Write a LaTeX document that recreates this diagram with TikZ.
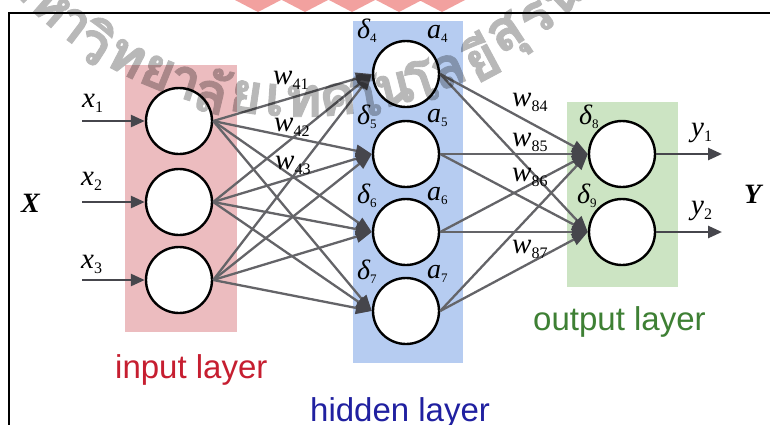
\documentclass[tikz,border=0pt]{standalone}
\usepackage{fontspec}
\setmainfont{Liberation Serif}
\setsansfont{Liberation Sans}
\newfontfamily\thaifont[Script=Thai,FakeBold=1.6]{Loma}
\usetikzlibrary{arrows.meta}
\definecolor{inpink}{RGB}{236,188,191}
\definecolor{hidblue}{RGB}{182,204,241}
\definecolor{outgreen}{RGB}{204,228,195}
\definecolor{linkgray}{RGB}{100,100,104}
\definecolor{headgray}{RGB}{70,70,76}
\definecolor{inred}{RGB}{198,30,48}
\definecolor{hidnavy}{RGB}{32,32,160}
\definecolor{outleaf}{RGB}{62,128,52}
\definecolor{logored}{RGB}{238,130,128}
% italic symbol with an upright subscript
\newcommand\vsym[2]{{\fontsize{29}{29}\selectfont\itshape #1}\raisebox{-5pt}{\fontsize{16}{16}\selectfont #2}}
\newcommand\dsym[2]{{\fontsize{28}{28}\selectfont\itshape #1}\raisebox{-4pt}{\fontsize{13}{13}\selectfont #2}}
\begin{document}
\begin{tikzpicture}[x=1pt,y=-1pt,
  neuron/.style={circle,draw=black,line width=2.4pt,fill=white,minimum size=66pt,inner sep=0pt},
  link/.style={draw=linkgray,line width=2.3pt,-{Triangle[length=16pt,width=12pt,color=headgray]}},
  ioarrow/.style={draw=headgray,line width=2.6pt,-{Triangle[length=14pt,width=12pt]}},
  sym/.style={inner sep=0pt,anchor=base west},
  bigsym/.style={inner sep=0pt,anchor=base west,font=\fontsize{28}{28}\selectfont\bfseries\itshape},
  layername/.style={inner sep=0pt,anchor=base west,font=\sffamily\fontsize{33}{33}\selectfont},
  wmark/.style={font=\thaifont\bfseries\fontsize{56}{56}\selectfont,text=black,inner sep=0pt}
]
\useasboundingbox (0,0) rectangle (770,424);
\fill[white] (0,0) rectangle (770,424);

% emblem edge above the frame
\foreach \cx in {258,305,352,399,442}
  \fill[logored,opacity=0.75] (\cx-23,0) -- (\cx+23,0) -- (\cx,12) -- cycle;

\draw[line width=2pt] (9,430) -- (9,13) -- (775,13);

% layer backgrounds
\fill[inpink] (125,65) rectangle (237,332);
\fill[hidblue] (353,21) rectangle (463,363);
\fill[outgreen] (567,102) rectangle (678,287);

% neurons
\node[neuron] (i1) at (179,121) {};
\node[neuron] (i2) at (179,202) {};
\node[neuron] (i3) at (179,280) {};
\node[neuron] (h4) at (406,74) {};
\node[neuron] (h5) at (406,154) {};
\node[neuron] (h6) at (406,232) {};
\node[neuron] (h7) at (406,311) {};
\node[neuron] (o8) at (622,154) {};
\node[neuron] (o9) at (622,232) {};

% weighted connections
\foreach \i in {1,2,3}
  \foreach \h in {4,5,6,7}
    \draw[link] (i\i.east) -- (h\h.west);
\foreach \h in {4,5,6,7}
  \foreach \o in {8,9}
    \draw[link] (h\h.east) -- (o\o.west);

% inputs and outputs
\coordinate (in1) at (82,121);
\coordinate (in2) at (82,202);
\coordinate (in3) at (82,280);
\coordinate (out1) at (722,154);
\coordinate (out2) at (722,232);
\draw[ioarrow] (in1) -- (i1.west);
\draw[ioarrow] (in2) -- (i2.west);
\draw[ioarrow] (in3) -- (i3.west);
\draw[ioarrow] (o8.east) -- (out1);
\draw[ioarrow] (o9.east) -- (out2);

% symbols
\node[sym] (lx1) at (82,107) {\vsym{x}{1}};
\node[sym] (lx2) at (81,185) {\vsym{x}{2}};
\node[sym] (lx3) at (81,268) {\vsym{x}{3}};
\node[bigsym] (bx) at (21,212) {X};
\node[bigsym] (by) at (744,203) {Y};
\node[sym] (ly1) at (691,136) {\vsym{y}{1}};
\node[sym] (ly2) at (691,214) {\vsym{y}{2}};

\node[sym] (w41) at (273,84) {\vsym{w}{41}};
\node[sym] (w42) at (274,131) {\vsym{w}{42}};
\node[sym] (w43) at (275,169) {\vsym{w}{43}};
\node[sym] (w84) at (512,106) {\vsym{w}{84}};
\node[sym] (w85) at (512,146) {\vsym{w}{85}};
\node[sym] (w86) at (512,181) {\vsym{w}{86}};
\node[sym] (w87) at (512,253) {\vsym{w}{87}};

\node[sym] (d4) at (357,38) {\dsym{δ}{4}};
\node[sym] (a4) at (427,38) {\dsym{a}{4}};
\node[sym] (d5) at (357,124) {\dsym{δ}{5}};
\node[sym] (a5) at (427,122) {\dsym{a}{5}};
\node[sym] (d6) at (357,203) {\dsym{δ}{6}};
\node[sym] (a6) at (427,200) {\dsym{a}{6}};
\node[sym] (d7) at (357,279) {\dsym{δ}{7}};
\node[sym] (a7) at (427,278) {\dsym{a}{7}};
\node[sym] (d8) at (579,124) {\dsym{δ}{8}};
\node[sym] (d9) at (577,203) {\dsym{δ}{9}};

% layer names
\node[layername,text=inred] (nin) at (115,378) {input layer};
\node[layername,text=hidnavy] (nhid) at (310,421) {hidden layer};
\node[layername,text=outleaf] (nout) at (533,330) {output layer};

% university name along an arc, laid over everything
\begin{scope}[transparency group,opacity=0.28]
\foreach \c/\a [count=\k] in {ม/-46.55,ห/-41.35,า/-37,วิ/-32.65,ท/-27.45,ย/-22.25,า/-17.9,ลั/-13.55,ย/-8.35,เ/-4.0,ท/0.35,ค/5.55,โ/9.9,น/14.25,โ/18.6,ล/22.95,ยี/28.15,สุ/33.35,ร/38.55,น/43.75,า/48.1,รี/52.45}
  \node[wmark,rotate=\a] (wm\k) at ({301+379*sin(\a)},{-278+379*cos(\a)}) {\c};
\end{scope}
\end{tikzpicture}
\end{document}
